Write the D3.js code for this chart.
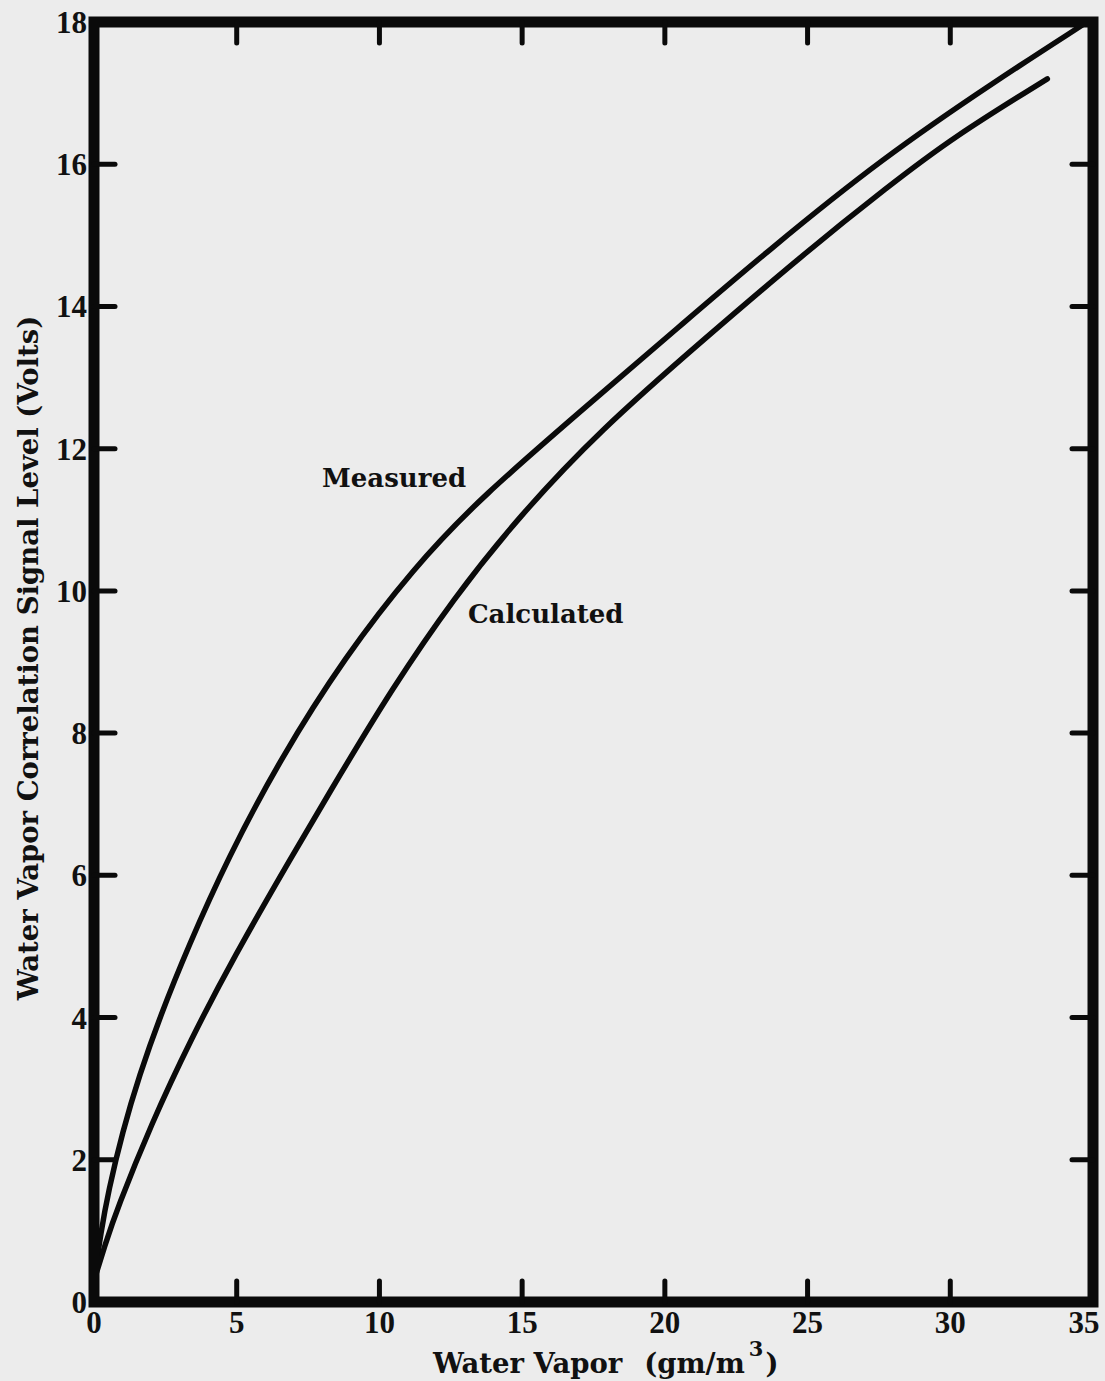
<!DOCTYPE html>
<html><head><meta charset="utf-8">
<script src="https://cdn.jsdelivr.net/npm/d3@7"></script>
<style>
html,body{margin:0;padding:0;background:#ececec;}
svg{display:block;}
text{font-family:"DejaVu Serif","Liberation Serif",serif;font-weight:bold;fill:#111;}
</style></head>
<body>
<script>
const xTicks = [0,5,10,15,20,25,30,35];
const yTicks = [0,2,4,6,8,10,12,14,16,18];
const measuredX = [0,0.25,0.5,1.0,1.6,2.3,3.3,4.7,6.5,8.8,11.2,13.5,17.7,20.6,23.6,27.6,31.7,34.6];
const measuredY = [0.3,1.0,1.55,2.4,3.2,4.0,5.0,6.25,7.62,9.08,10.32,11.3,12.75,13.75,14.78,16.08,17.2,17.95];
const calculatedX = [0,0.4,0.8,2.0,3.4,4.9,6.9,8.6,10.4,12.6,14.9,17.7,21.4,24.9,27.8,30.1,33.4];
const calculatedY = [0.3,0.82,1.3,2.5,3.7,4.85,6.25,7.4,8.6,9.9,11.05,12.25,13.55,14.75,15.68,16.38,17.2];
const labels = [{text:"Measured", x:7.99, y:11.46},{text:"Calculated", x:13.1, y:9.55}];

const W=1105,H=1381;
const svg=d3.select("body").append("svg").attr("width",W).attr("height",H);
svg.append("rect").attr("width",W).attr("height",H).attr("fill","#ececec");
const x=d3.scaleLinear().domain([0,35]).range([94,1093]);
const y=d3.scaleLinear().domain([0,18]).range([1302,22]);

// curves
const line=d3.line().x(d=>x(d[0])).y(d=>y(d[1])).curve(d3.curveBasis);
const series=[d3.zip(measuredX,measuredY), d3.zip(calculatedX,calculatedY)];
svg.selectAll("path.curve").data(series).join("path").attr("class","curve")
  .attr("d",line).attr("fill","none").attr("stroke","#0a0a0a").attr("stroke-width",5.5).attr("stroke-linecap","round");

// frame
svg.append("rect").attr("x",x(0)).attr("y",y(18)).attr("width",x(35)-x(0)).attr("height",y(0)-y(18))
  .attr("fill","none").attr("stroke","#0a0a0a").attr("stroke-width",11);

// inward ticks
const tl=21;
const inner=xTicks.filter(d=>d>0&&d<35), innerY=yTicks.filter(d=>d>0&&d<18);
const tk=svg.append("g").attr("stroke","#0a0a0a").attr("stroke-width",5).attr("stroke-linecap","round");
inner.forEach(v=>{
  tk.append("line").attr("x1",x(v)).attr("x2",x(v)).attr("y1",y(0)).attr("y2",y(0)-tl);
  tk.append("line").attr("x1",x(v)).attr("x2",x(v)).attr("y1",y(18)).attr("y2",y(18)+tl);
});
innerY.forEach(v=>{
  tk.append("line").attr("y1",y(v)).attr("y2",y(v)).attr("x1",x(0)).attr("x2",x(0)+tl);
  tk.append("line").attr("y1",y(v)).attr("y2",y(v)).attr("x1",x(35)).attr("x2",x(35)-tl);
});

// tick labels
const tickFont='"Liberation Serif","DejaVu Serif",serif';
svg.selectAll("text.xt").data(xTicks).join("text").attr("class","xt")
  .attr("x",d=>Math.min(x(d),1084)).attr("y",1333).attr("text-anchor","middle")
  .style("font-family",tickFont).attr("font-size",31).text(d=>d);
svg.selectAll("text.yt").data(yTicks).join("text").attr("class","yt")
  .attr("x",87).attr("y",d=>y(d)+11).attr("text-anchor","end")
  .style("font-family",tickFont).attr("font-size",31).text(d=>d);

// axis titles
const xt=svg.append("text").attr("x",433).attr("y",1373).attr("font-size",27.5);
xt.append("tspan").text("Water Vapor");
xt.append("tspan").attr("dx",22).text("(gm/m");
xt.append("tspan").attr("dy",-17).attr("dx",4).attr("font-size",21).text("3");
xt.append("tspan").attr("dy",17).attr("dx",2).text(")");
svg.append("text").attr("transform","translate(38,658) rotate(-90)").attr("text-anchor","middle")
  .attr("font-size",27.5).text("Water Vapor Correlation Signal Level (Volts)");

// curve labels
svg.selectAll("text.cl").data(labels).join("text").attr("class","cl")
  .attr("x",d=>x(d.x)).attr("y",d=>y(d.y)).attr("font-size",26).text(d=>d.text);
</script>
</body></html>
